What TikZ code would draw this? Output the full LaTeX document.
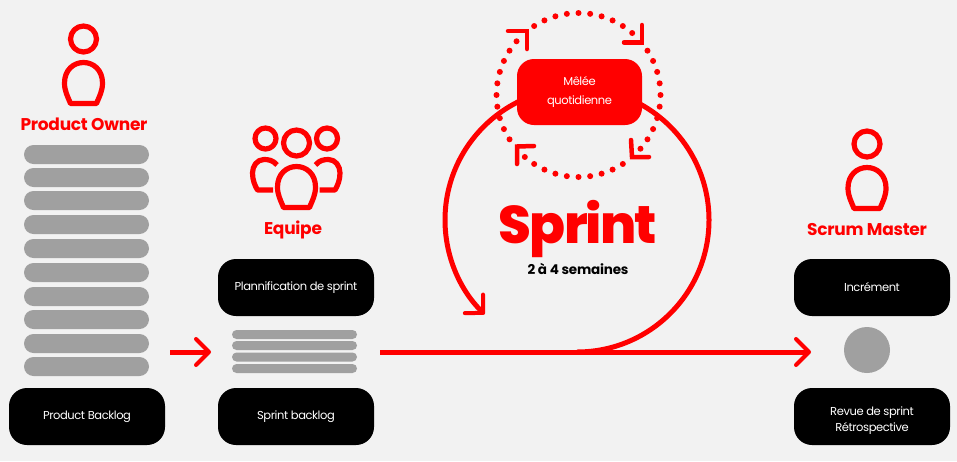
\documentclass[tikz,border=0pt]{standalone}
\usepackage{fontspec}
\setmainfont{Poppins}
\newfontfamily\tightfont{Poppins}[LetterSpace=-3.6]
\newfontfamily\heavyfont{Poppins}[UprightFont={* ExtraBold},LetterSpace=-3.5]
\newfontfamily\rolefont{Poppins}[UprightFont={* Bold},LetterSpace=-1.5]
\usetikzlibrary{arrows.meta}
\definecolor{scrumred}{HTML}{FF0000}
\definecolor{bargray}{HTML}{A0A0A0}
\definecolor{pagegray}{HTML}{F2F2F2}
\tikzset{
  person/.pic={
    \draw[icon line] (0,0) circle [radius=13pt];
    \draw[icon line] (-13,64.5) .. controls (-16,57) and (-19,52) .. (-19,44)
      .. controls (-19,31) and (-10,23.5) .. (0,23.5)
      .. controls (10,23.5) and (19,31) .. (19,44)
      .. controls (19,52) and (16,57) .. (13,64.5) -- cycle;
  },
  side person/.pic={
    \draw[icon line] (0,0) circle [radius=10.5pt];
    \draw[icon line] (11.5,26.5) .. controls (7.5,21.5) and (2.5,21) .. (-1.5,21)
      .. controls (-8.5,21) and (-13,27.5) .. (-13,34.5)
      .. controls (-13,41.5) and (-10.5,47.5) .. (-8,51.5) -- (7.5,51.5);
  }
}
\begin{document}
\begin{tikzpicture}[x=1pt,y=-1pt,>={Straight Barb[round,length=13pt,width=26pt,line width=4pt]},
                    node distance=129pt,
                    icon line/.style={draw=scrumred,line width=5.2pt,line join=round},
                    flow/.style={draw=scrumred,line width=5pt},
                    chevron/.style={draw=scrumred,line width=4.5pt,line cap=round},
                    main node/.style={rectangle,fill=black,text=white,rounded corners=18pt,inner sep=0pt,
                                      minimum width=156pt,minimum height=57pt,align=center,
                                      font=\fontsize{11.5}{16}\tightfont},
                    role/.style={text=scrumred,font=\fontsize{17}{20}\rolefont},
                    long bar/.style={rectangle,fill=bargray,rounded corners=9.5pt,minimum width=125pt,minimum height=19pt,inner sep=0pt},
                    short bar/.style={rectangle,fill=bargray,rounded corners=4.5pt,minimum width=125pt,minimum height=9pt,inner sep=0pt}]
  \fill[pagegray] (0,0) rectangle (957,461);
  \useasboundingbox (0,0) rectangle (957,461);

  \pic at (83.5,39) {person};
  \node[role] (owner) at (84,124) {Product Owner};
  \foreach \y in {154.5,177.5,200.5,224.5,248.5,272.5,296.5,319.5,343.5,366.5}
    \node[long bar] (bar\y) at (86.5,\y) {};
  \node[main node] (1) at (87,416.5) {Product Backlog};

  \pic at (265.5,138.5) {side person};
  \pic[xscale=-1] at (327,138.5) {side person};
  \pic at (296.5,143) {person};
  \node[role] (team) at (293,230) {Equipe};
  \node[main node] (2) [right of=1,node distance=209pt] {Sprint backlog};
  \node[main node] (3) [above of=2] {Plannification de sprint};
  \foreach \y in {334.5,345.5,357,368.5}
    \node[short bar] (item\y) at (294.5,\y) {};

  \pic at (867,144) {person};
  \node[role] (master) at (867,230) {Scrum Master};
  \node[main node] (4) [right of=2,node distance=576pt] {\rule{0pt}{17pt}Revue de sprint\\Rétrospective};
  \node[main node] (5) [above of=4] {Incrément};
  \node[circle,fill=bargray,minimum size=46pt,inner sep=0pt] (done) at (867,350) {};

  \coordinate (in start) at (170,352);
  \coordinate (in end) at (211,352);
  \coordinate (run start) at (380,352);
  \coordinate (run end) at (811,352);
  \coordinate (turn) at (577,352);
  \draw[flow,->] (in start) -- (in end);
  \draw[flow,->] (run start) -- (run end);
  \draw[flow,->] (turn) arc [start angle=-90,end angle=225.6,radius=132pt];

  \coordinate (daily) at (578.5,95);
  \foreach \q in {0,...,3}
    \foreach \k in {0,1,2,3,4,6,7,8,9,10}
      \fill[scrumred] (daily) ++({90+\q*90+\k*360/44}:82pt) circle [radius=3pt];
  \draw[chevron] (508,31) -- (527,31) -- (527,49);
  \draw[chevron] (642,25) -- (642,42.5) -- (624,42.5);
  \draw[chevron] (649,157) -- (632,157) -- (631,140);
  \draw[chevron] (534,146) -- (517,146.5) -- (517,164);
  \node[rectangle,fill=scrumred,text=white,rounded corners=17pt,minimum width=125pt,minimum height=66pt,
        inner sep=0pt,align=center,font=\fontsize{11.5}{19}\tightfont] (melee) at (579.5,92) {Mêlée\\quotidienne};

  \node[text=scrumred,font=\fontsize{53}{60}\heavyfont] (sprint) at (578,229) {Sprint};
  \node[font=\fontsize{13.5}{16}\rolefont] (length) [below of=sprint,node distance=40pt] {2 à 4 semaines};
\end{tikzpicture}
\end{document}
